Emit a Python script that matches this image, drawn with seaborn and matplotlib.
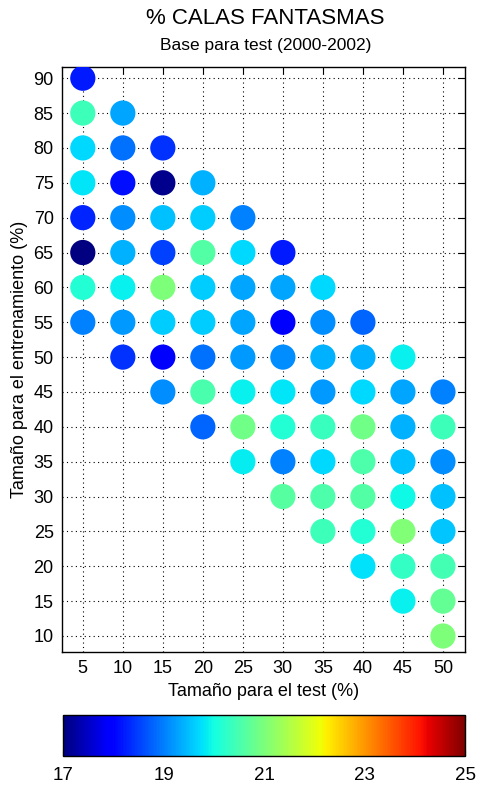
import numpy as np
import pandas as pd
import matplotlib
matplotlib.use("Agg")
import matplotlib.pyplot as plt
import seaborn as sns

# Training size (rows, top to bottom) and first test size present in each row
train_sizes = [90, 85, 80, 75, 70, 65, 60, 55, 50, 45, 40, 35, 30, 25, 20, 15, 10]
row_first_test = [5, 5, 5, 5, 5, 5, 5, 5, 10, 15, 20, 25, 30, 35, 40, 45, 50]
row_last_test = [5, 10, 15, 20, 25, 30, 35, 40, 45, 50, 50, 50, 50, 50, 50, 50, 50]

# % calas fantasmas per row, read left to right
ghost_pct = [
    [18.2],
    [20.4, 19.3],
    [19.7, 18.9, 18.4],
    [19.8, 18.1, 17.1, 19.4],
    [18.3, 19.1, 19.5, 19.6, 19.0],
    [17.0, 19.4, 18.5, 20.6, 19.7, 18.2],
    [20.15, 19.9, 21.0, 19.6, 19.3, 19.3, 19.7],
    [19.0, 19.2, 19.6, 19.6, 19.3, 17.9, 19.1, 18.8],
    [18.4, 17.9, 18.9, 19.2, 19.1, 19.4, 19.4, 19.9],
    [19.1, 20.5, 19.9, 19.8, 19.2, 19.7, 19.3, 19.0],
    [18.8, 20.9, 20.15, 20.35, 20.9, 19.4, 20.4],
    [19.85, 19.0, 19.7, 20.55, 19.5, 19.1],
    [20.65, 20.55, 20.6, 19.95, 19.5],
    [20.4, 20.15, 21.05, 19.55],
    [19.75, 20.3, 20.45],
    [19.9, 20.75],
    [21.0],
]

x_ticks = [5, 10, 15, 20, 25, 30, 35, 40, 45, 50]
y_ticks = [10, 15, 20, 25, 30, 35, 40, 45, 50, 55, 60, 65, 70, 75, 80, 85, 90]
cbar_ticks = [17, 19, 21, 23, 25]

rows = []
for train, first, last, vals in zip(train_sizes, row_first_test, row_last_test, ghost_pct):
    for test, v in zip(range(first, last + 1, 5), vals):
        rows.append({"test": test, "train": train, "pct": v})
df = pd.DataFrame(rows)

sns.set_style("white")
plt.rcParams["font.family"] = ["Liberation Sans", "DejaVu Sans"]
plt.rcParams["text.color"] = "black"
plt.rcParams["axes.labelcolor"] = "black"

jet = plt.get_cmap("jet")
fig = plt.figure(figsize=(4.78, 7.87), dpi=100)
ax = fig.add_axes([0.1297, 0.1715, 0.843, 0.7433])

ax.grid(True, linestyle=(0, (1, 3)), color="black", linewidth=0.8, zorder=0)
ax.set_axisbelow(True)

sns.scatterplot(data=df, x="test", y="train", hue="pct", palette=jet,
                hue_norm=(17, 25), s=330, edgecolor="none", legend=False,
                ax=ax, zorder=3)

ax.set_xlim(2.4, 52.75)
ax.set_ylim(7.7, 91.6)
ax.set_xticks(x_ticks)
ax.set_yticks(y_ticks)
ax.tick_params(direction="in", length=5, width=0.8, top=True, right=True,
               labelsize=13, colors="black", pad=6)
for sp in ax.spines.values():
    sp.set_color("black")
    sp.set_linewidth(1.0)

ax.set_xlabel("Tamaño para el test (%)", fontsize=13, labelpad=4)
ax.set_ylabel("Tamaño para el entrenamiento (%)", fontsize=13, labelpad=4)

fig.text(0.555, 0.977, "% CALAS FANTASMAS", ha="center", va="center", fontsize=16)
fig.text(0.555, 0.942, "Base para test (2000-2002)", ha="center", va="center", fontsize=12.5)

# horizontal colorbar
cax = fig.add_axes([0.132, 0.0394, 0.841, 0.052])
sm = plt.cm.ScalarMappable(cmap=jet, norm=plt.Normalize(17, 25))
cb = fig.colorbar(sm, cax=cax, orientation="horizontal", ticks=cbar_ticks)
cb.outline.set_edgecolor("black")
cb.outline.set_linewidth(1.0)
cax.tick_params(direction="in", length=4, width=0.8, top=True, bottom=True,
                labelsize=13.5, colors="black", pad=8)

fig.savefig("out.png", dpi=100)
